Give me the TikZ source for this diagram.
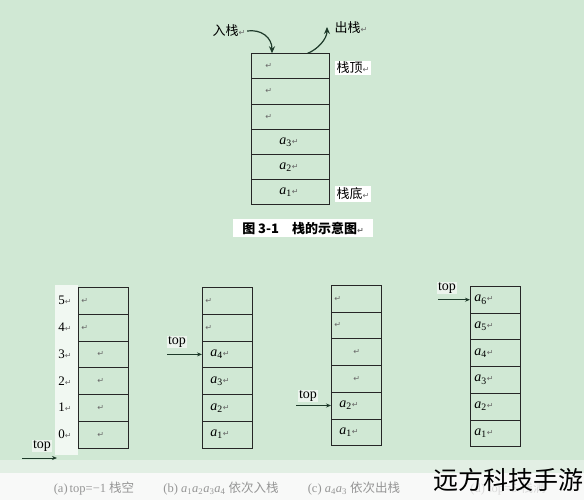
\documentclass[tikz,border=0pt]{standalone}
\usepackage{fontspec}
\setmainfont{Liberation Serif}
\newfontfamily\cjk{Noto Sans CJK SC}
\newfontfamily\sym{DejaVu Sans}
\usetikzlibrary{arrows.meta}

\definecolor{bggreen}{RGB}{208,232,212}
\definecolor{bandgreen}{RGB}{226,239,228}
\definecolor{paper}{RGB}{248,249,248}
\definecolor{capgray}{RGB}{150,150,150}
\definecolor{retgray}{RGB}{105,105,105}
\definecolor{arrowcol}{RGB}{30,58,42}
\definecolor{hilite}{RGB}{236,244,237}

\newcommand{\ret}{{\sym\fontsize{8}{8}\selectfont\color{retgray}↵}}
\newcommand{\ai}[1]{\textit{a}\textsubscript{#1}}

\begin{document}
\begin{tikzpicture}[x=1pt,y=-1pt,
    cell/.style={draw=black!85, line width=0.7pt, anchor=north west,
      minimum width=50pt, minimum height=26.7pt, inner xsep=3pt, inner ysep=0pt,
      text width=44pt, align=left, font=\fontsize{14}{14}\selectfont},
    bigcell/.style={cell, minimum width=78pt, minimum height=25.2pt, text width=72pt},
    cjklbl/.style={font=\cjk\fontsize{13}{13}\selectfont, inner sep=1.5pt},
    toplbl/.style={fill=hilite, inner sep=1pt, font=\fontsize{14}{14}\selectfont},
    idx/.style={inner sep=0pt, font=\fontsize{13}{13}\selectfont},
    ptr/.style={-{Stealth[length=5pt,width=4pt]}, line width=0.8pt, draw=arrowcol},
    flow/.style={-{Stealth[length=7pt,width=6pt]}, line width=1.2pt, draw=arrowcol},
    caption/.style={text=capgray, font=\fontsize{12.5}{12.5}\selectfont, inner sep=0pt}]

  % background
  \useasboundingbox (0,0) rectangle (584,500);
  \fill[bggreen] (0,0) rectangle (584,460);
  \fill[paper] (0,460) rectangle (584,500);
  \fill[bandgreen] (0,460) rectangle (584,473);

  % figure 3-1
  \foreach \i/\c in {5/{\hspace{11pt}\ret}, 4/{\hspace{11pt}\ret}, 3/{\hspace{11pt}\ret},
      2/{\hspace{25pt}\ai{3}\ret}, 1/{\hspace{25pt}\ai{2}\ret}, 0/{\hspace{25pt}\ai{1}\ret}}
    \node[bigcell] (s\i) at (251,{53.3+(5-\i)*25.2}) {\c};
  \node[cjklbl] (push) at (229,31) {入栈\ret};
  \node[cjklbl] (pop) at (351,28) {出栈\ret};
  \node[cjklbl, fill=white] (stop) at (353,68) {栈顶\ret};
  \node[cjklbl, fill=white] (sbot) at (353,194) {栈底\ret};
  \coordinate (popend) at (327,27);
  \draw[flow] (push.east) .. controls +(14,-2) and +(0,-16) .. ([xshift=21pt]s5.north west);
  \draw[flow] ([xshift=-22pt]s5.north east) .. controls +(10,-4) and +(0,12) .. (popend);
  \node[fill=white, inner xsep=9pt, inner ysep=3pt,
    font=\cjk\bfseries\fontsize{13}{13}\selectfont] (fig) at (303,228)
    {图 3-1\hspace{1em}栈的示意图\ret};

  % (a) empty stack
  \fill[white!70!bggreen] (55,285) rectangle (78,455);
  \foreach \i/\c in {5/{\ret}, 4/{\ret}, 3/{\hspace{16pt}\ret}, 2/{\hspace{16pt}\ret},
      1/{\hspace{16pt}\ret}, 0/{\hspace{16pt}\ret}} {
    \node[cell] (a\i) at (78,{287.3+(5-\i)*26.7}) {\c};
    \node[idx] (n\i) at (65,{300.6+(5-\i)*26.7}) {\i\ret};
  }
  \node[toplbl] (topa) at (42,446) {top};
  \coordinate (pa) at (22,458);
  \coordinate (qa) at (57,458);
  \draw[ptr] (pa) -- (qa);

  % (b) push a1..a4
  \foreach \i/\c in {5/{\ret}, 4/{\ret}, 3/{\hspace{5pt}\ai{4}\ret}, 2/{\hspace{5pt}\ai{3}\ret},
      1/{\hspace{5pt}\ai{2}\ret}, 0/{\hspace{5pt}\ai{1}\ret}}
    \node[cell] (b\i) at (202,{287.3+(5-\i)*26.7}) {\c};
  \node[toplbl] (topb) at (177,342) {top};
  \coordinate (pb) at ([xshift=-35pt]b3.west);
  \draw[ptr] (pb) -- (b3.west);

  % (c) pop a4, a3
  \foreach \i/\c in {5/{\ret}, 4/{\ret}, 3/{\hspace{19pt}\ret}, 2/{\hspace{19pt}\ret},
      1/{\hspace{5pt}\ai{2}\ret}, 0/{\hspace{5pt}\ai{1}\ret}}
    \node[cell] (c\i) at (331,{285+(5-\i)*26.7}) {\c};
  \node[toplbl] (topc) at (308,396) {top};
  \coordinate (pc) at ([xshift=-35pt]c1.west);
  \draw[ptr] (pc) -- (c1.west);

  % (d) full stack
  \foreach \i/\c in {5/{\ai{6}\ret}, 4/{\ai{5}\ret}, 3/{\ai{4}\ret}, 2/{\ai{3}\ret},
      1/{\ai{2}\ret}, 0/{\ai{1}\ret}}
    \node[cell] (d\i) at (470,{286+(5-\i)*26.7}) {\hspace{1pt}\c};
  \node[toplbl] (topd) at (447,288) {top};
  \coordinate (pd) at ([xshift=-32pt]d5.west);
  \draw[ptr] (pd) -- (d5.west);

  % captions
  \node[caption] (capa) at (94,489) {(a)\,top=−1 {\cjk 栈空}};
  \node[caption] (capb) at (221,489) {(b) \textit{a}\textsubscript{1}\textit{a}\textsubscript{2}\textit{a}\textsubscript{3}\textit{a}\textsubscript{4} {\cjk 依次入栈}};
  \node[caption] (capc) at (354,489) {(c) \textit{a}\textsubscript{4}\textit{a}\textsubscript{3} {\cjk 依次出栈}};
  \node[caption, text=capgray!35] (capd) at (508,489) {(d) top=5 {\cjk 栈满}};
  \node[font=\cjk\fontsize{25}{25}\selectfont, inner sep=0pt] (mark) at (508,480) {远方科技手游};
\end{tikzpicture}
\end{document}
